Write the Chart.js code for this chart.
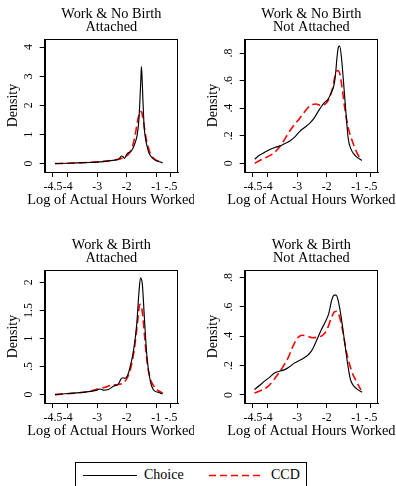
<!DOCTYPE html>
<html>
<head>
<meta charset="utf-8">
<script src="https://cdn.jsdelivr.net/npm/chart.js@4/dist/chart.umd.min.js"></script>
<style>
  html, body { margin: 0; padding: 0; background: #fff; }
  body { width: 396px; height: 486px; position: relative; overflow: hidden; font-family: 'Liberation Serif', 'Times New Roman', serif; }
  .panel { position: absolute; overflow: hidden; }
  .legend { position: absolute; left: 75px; top: 462px; width: 232px; height: 40px; border: 1px solid #000; box-sizing: border-box; }
  .legend span { position: absolute; font-size: 14px; line-height: 14px; color: #000; }
  .legend svg { position: absolute; left: 0; top: 0; }
</style>
</head>
<body>
<div class="panel" style="left:0;top:0;width:194px;height:210px"><canvas id="c1" width="194" height="210"></canvas></div>
<div class="panel" style="left:200px;top:0;width:196px;height:210px"><canvas id="c2" width="196" height="210"></canvas></div>
<div class="panel" style="left:0;top:231px;width:194px;height:210px"><canvas id="c3" width="194" height="210"></canvas></div>
<div class="panel" style="left:200px;top:231px;width:196px;height:210px"><canvas id="c4" width="196" height="210"></canvas></div>

<div class="legend">
  <svg width="232" height="30">
    <line x1="7" y1="12.5" x2="61" y2="12.5" stroke="#000" stroke-width="1.2"/>
    <line x1="133" y1="12.5" x2="188" y2="12.5" stroke="#ff0000" stroke-width="1.6" stroke-dasharray="7,4"/>
  </svg>
  <span id="lgChoice" style="left:68px;top:5px"></span>
  <span id="lgCCD" style="left:195px;top:5px"></span>
</div>

<script>
// Series labels
const seriesNames = ['Choice', 'CCD'];
const xAxisTitle = 'Log of Actual Hours Worked';
const yAxisTitle = 'Density';

// Shared x axis ticks
const xTickValues = [-4.5, -4, -3, -2, -1, -0.5];
const xTickLabels = ['-4.5', '-4', '-3', '-2', '-1', '-.5'];

// Panel 1: Work & No Birth, Attached
const p1Title = ['Work & No Birth', 'Attached'];
const p1YTicks = [0, 1, 2, 3, 4];
const p1YTickLabels = ['0', '1', '2', '3', '4'];
const p1ChoiceX = [-4.43, -4.0, -3.5, -3.0, -2.6, -2.4, -2.25, -2.18, -2.13, -2.07, -2.01, -1.95, -1.87, -1.80, -1.72, -1.65, -1.59, -1.55, -1.52, -1.50, -1.48, -1.45, -1.41, -1.36, -1.31, -1.25, -1.18, -1.10, -1.0, -0.9, -0.78];
const p1ChoiceY = [0.0, 0.01, 0.03, 0.05, 0.09, 0.12, 0.17, 0.26, 0.24, 0.18, 0.30, 0.37, 0.40, 0.50, 0.70, 0.95, 1.45, 2.2, 2.9, 3.33, 3.0, 2.2, 1.3, 0.85, 0.6, 0.38, 0.25, 0.16, 0.10, 0.06, 0.03];
const p1CcdX = [-4.43, -4.0, -3.5, -3.0, -2.5, -2.2, -2.0, -1.9, -1.8, -1.72, -1.65, -1.59, -1.54, -1.49, -1.44, -1.38, -1.32, -1.25, -1.18, -1.10, -1.0, -0.9, -0.78];
const p1CcdY = [0.0, 0.01, 0.03, 0.06, 0.11, 0.17, 0.26, 0.38, 0.6, 0.95, 1.35, 1.65, 1.8, 1.76, 1.5, 1.1, 0.75, 0.5, 0.3, 0.2, 0.12, 0.08, 0.05];

// Panel 2: Work & No Birth, Not Attached
const p2Title = ['Work & No Birth', 'Not Attached'];
const p2YTicks = [0, 0.2, 0.4, 0.6, 0.8];
const p2YTickLabels = ['0', '.2', '.4', '.6', '.8'];
const p2ChoiceX = [-4.44, -4.27, -4.1, -3.93, -3.76, -3.6, -3.43, -3.26, -3.09, -2.92, -2.75, -2.58, -2.42, -2.25, -2.08, -1.97, -1.85, -1.74, -1.69, -1.65, -1.60, -1.56, -1.50, -1.44, -1.35, -1.27, -1.18, -1.03, -0.81];
const p2ChoiceY = [0.03, 0.06, 0.08, 0.10, 0.115, 0.125, 0.142, 0.16, 0.19, 0.23, 0.26, 0.29, 0.33, 0.39, 0.44, 0.46, 0.51, 0.58, 0.67, 0.77, 0.845, 0.85, 0.77, 0.62, 0.375, 0.18, 0.105, 0.056, 0.02];
const p2CcdX = [-4.44, -4.27, -4.04, -3.82, -3.65, -3.48, -3.31, -3.15, -2.92, -2.7, -2.53, -2.36, -2.19, -2.02, -1.91, -1.8, -1.69, -1.62, -1.55, -1.46, -1.37, -1.26, -1.12, -0.96, -0.84];
const p2CcdY = [0.0, 0.02, 0.044, 0.07, 0.105, 0.155, 0.215, 0.265, 0.326, 0.387, 0.424, 0.43, 0.42, 0.436, 0.473, 0.546, 0.657, 0.674, 0.645, 0.52, 0.375, 0.25, 0.155, 0.07, 0.027];

// Panel 3: Work & Birth, Attached
const p3Title = ['Work & Birth', 'Attached'];
const p3YTicks = [0, 0.5, 1, 1.5, 2];
const p3YTickLabels = ['0', '.5', '1', '1.5', '2'];
const p3ChoiceX = [-4.43, -4.0, -3.47, -3.0, -2.9, -2.79, -2.62, -2.45, -2.28, -2.2, -2.14, -2.06, -1.98, -1.89, -1.77, -1.66, -1.58, -1.53, -1.47, -1.4, -1.32, -1.21, -1.1, -0.93, -0.78];
const p3ChoiceY = [0.0, 0.02, 0.04, 0.08, 0.10, 0.08, 0.09, 0.15, 0.19, 0.27, 0.30, 0.29, 0.33, 0.48, 0.78, 1.25, 1.85, 2.08, 1.97, 1.37, 0.72, 0.27, 0.09, 0.04, 0.01];
const p3CcdX = [-4.43, -3.8, -3.24, -3.0, -2.73, -2.51, -2.28, -2.11, -1.98, -1.86, -1.75, -1.64, -1.57, -1.53, -1.46, -1.38, -1.3, -1.19, -1.04, -0.78];
const p3CcdY = [0.0, 0.025, 0.06, 0.10, 0.13, 0.17, 0.18, 0.21, 0.30, 0.48, 0.78, 1.25, 1.58, 1.61, 1.43, 0.96, 0.54, 0.27, 0.12, 0.025];

// Panel 4: Work & Birth, Not Attached
const p4Title = ['Work & Birth', 'Not Attached'];
const p4YTicks = [0, 0.2, 0.4, 0.6, 0.8];
const p4YTickLabels = ['0', '.2', '.4', '.6', '.8'];
const p4ChoiceX = [-4.45, -4.28, -4.11, -3.94, -3.77, -3.6, -3.44, -3.27, -3.1, -2.93, -2.76, -2.59, -2.47, -2.34, -2.19, -2.05, -1.93, -1.83, -1.74, -1.68, -1.6, -1.51, -1.4, -1.29, -1.2, -1.12, -0.98, -0.8];
const p4ChoiceY = [0.037, 0.064, 0.094, 0.12, 0.149, 0.162, 0.171, 0.19, 0.217, 0.235, 0.254, 0.281, 0.315, 0.373, 0.441, 0.498, 0.555, 0.647, 0.681, 0.681, 0.635, 0.532, 0.373, 0.213, 0.11, 0.071, 0.041, 0.018];
const p4CcdX = [-4.45, -4.23, -4.0, -3.83, -3.66, -3.49, -3.32, -3.18, -3.04, -2.93, -2.81, -2.64, -2.47, -2.31, -2.14, -2.0, -1.85, -1.74, -1.66, -1.57, -1.46, -1.34, -1.23, -1.12, -0.98, -0.84];
const p4CcdY = [0.014, 0.03, 0.057, 0.094, 0.139, 0.19, 0.247, 0.315, 0.373, 0.4, 0.407, 0.4, 0.39, 0.395, 0.407, 0.441, 0.521, 0.567, 0.571, 0.537, 0.441, 0.304, 0.213, 0.144, 0.087, 0.034];

const SERIF = "'Liberation Serif', 'Times New Roman', serif";
Chart.defaults.font.family = SERIF;
Chart.defaults.color = '#000';

document.getElementById('lgChoice').textContent = seriesNames[0];
document.getElementById('lgCCD').textContent = seriesNames[1];

const toPoints = (xs, ys) => xs.map((x, i) => ({ x: x, y: ys[i] }));

// Outer frame around the plot region plus the x axis caption
const framePlugin = {
  id: 'frameAndCaption',
  afterDraw(chart) {
    const { ctx, chartArea: a } = chart;
    ctx.save();
    ctx.strokeStyle = '#000';
    ctx.lineWidth = 1;
    ctx.strokeRect(Math.round(a.left) + 0.5, Math.round(a.top) + 0.5,
                   Math.round(a.right - a.left) - 1, Math.round(a.bottom - a.top));
    ctx.fillStyle = '#000';
    ctx.font = '14.4px ' + SERIF;
    ctx.textAlign = 'center';
    ctx.textBaseline = 'alphabetic';
    ctx.fillText(xAxisTitle, (a.left + a.right) / 2, a.bottom + 31.5);
    ctx.restore();
  }
};

function makePanel(id, title, yMin, yMax, yTicks, yTickLabels, yTickPad, choiceX, choiceY, ccdX, ccdY) {
  const canvas = document.getElementById(id);
  const plotRight = 178;
  return new Chart(canvas, {
    type: 'line',
    data: {
      datasets: [
        {
          label: seriesNames[0],
          data: toPoints(choiceX, choiceY),
          borderColor: '#000',
          borderWidth: 1.15,
          pointRadius: 0,
          cubicInterpolationMode: 'monotone',
          fill: false
        },
        {
          label: seriesNames[1],
          data: toPoints(ccdX, ccdY),
          borderColor: '#ff0000',
          borderWidth: 1.6,
          borderDash: [8, 4],
          pointRadius: 0,
          cubicInterpolationMode: 'monotone',
          fill: false
        }
      ]
    },
    options: {
      responsive: false,
      animation: false,
      events: [],
      layout: { padding: { left: 0, right: canvas.width - plotRight, top: 0, bottom: 2 } },
      plugins: {
        legend: { display: false },
        tooltip: { enabled: false },
        title: {
          display: true,
          text: title,
          fullSize: false,
          color: '#000',
          font: { family: SERIF, size: 14.3, weight: 'normal', lineHeight: 0.91 },
          padding: { top: 8, bottom: 5 }
        }
      },
      scales: {
        x: {
          type: 'linear',
          min: -4.78,
          max: -0.26,
          afterFit(s) { s.height = 36; },
          afterBuildTicks(s) { s.ticks = xTickValues.map(v => ({ value: v })); },
          ticks: {
            autoSkip: false,
            maxRotation: 0,
            minRotation: 0,
            padding: 2.5,
            color: '#000',
            font: { family: SERIF, size: 11.8 },
            callback: (v, i) => xTickLabels[i]
          },
          grid: { drawOnChartArea: false, drawTicks: true, tickLength: 5, color: '#000', lineWidth: 1 },
          border: { display: true, color: '#000', width: 1 }
        },
        y: {
          type: 'linear',
          min: yMin,
          max: yMax,
          afterFit(s) { s.width = 44.7; },
          afterBuildTicks(s) { s.ticks = yTicks.map(v => ({ value: v })); },
          title: {
            display: true,
            text: yAxisTitle,
            color: '#000',
            font: { family: SERIF, size: 14, lineHeight: 1 },
            padding: { top: 6, bottom: 0 }
          },
          ticks: {
            autoSkip: false,
            minRotation: 90,
            maxRotation: 90,
            crossAlign: 'center',
            padding: yTickPad,
            color: '#000',
            font: { family: SERIF, size: 11.8 },
            callback: (v, i) => yTickLabels[i]
          },
          grid: { drawOnChartArea: false, drawTicks: true, tickLength: 5, color: '#000', lineWidth: 1 },
          border: { display: true, color: '#000', width: 1 }
        }
      }
    },
    plugins: [framePlugin]
  });
}

makePanel('c1', p1Title, -0.29, 4.28, p1YTicks, p1YTickLabels, 8.1, p1ChoiceX, p1ChoiceY, p1CcdX, p1CcdY);
makePanel('c2', p2Title, -0.063, 0.902, p2YTicks, p2YTickLabels, 6.7, p2ChoiceX, p2ChoiceY, p2CcdX, p2CcdY);
makePanel('c3', p3Title, -0.15, 2.22, p3YTicks, p3YTickLabels, 3.8, p3ChoiceX, p3ChoiceY, p3CcdX, p3CcdY);
makePanel('c4', p4Title, -0.055, 0.852, p4YTicks, p4YTickLabels, 6.7, p4ChoiceX, p4ChoiceY, p4CcdX, p4CcdY);
</script>
</body>
</html>
